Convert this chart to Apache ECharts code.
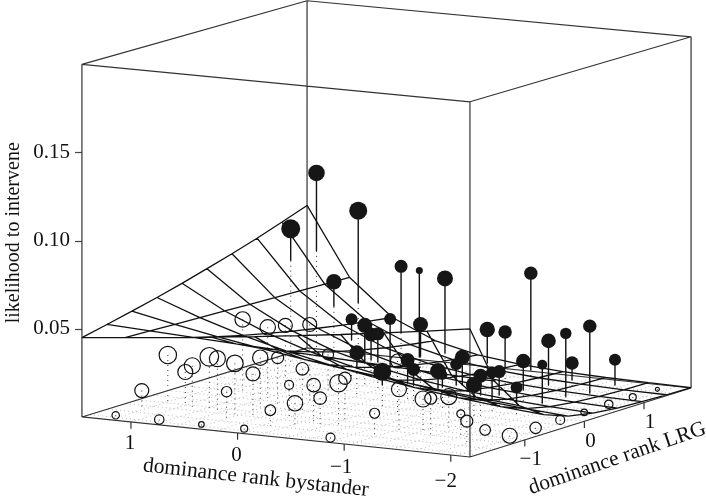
<!DOCTYPE html>
<html>
<head>
<meta charset="utf-8">
<style>html,body{margin:0;padding:0;background:#fff}#main{width:706px;height:502px}</style>
<script src="https://cdn.jsdelivr.net/npm/echarts@6/dist/echarts.min.js"></script>
</head>
<body>
<div id="main"></div>
<script>
// axis ranges and ticks
var bMin = -2.18, bMax = 1.46, lMin = -1.92, lMax = 1.79;
var bystanderTicks = [1, 0, -1, -2];
var lrgTicks = [-1, 0, 1];
var zTicks = [0.05, 0.10, 0.15];

// points under the fitted surface (open circles)
var openB = [.90,.59,.76,.20,1.20,.89,1.03,.77,.62,.45,.41,.36,.30,.28,-.02,-.02,.42,-.33,-.47,-.53,-.46,-.29,-.07,1.20,1.20,.78,.39,.00,-.81,-1.07,-1.01,-1.24,-1.43,-1.42,-1.64,-1.82,-1.88,-2.10,-2.08,-2.07,-2.06,-2.05,-2.04,-2.03,-.65];
var openL = [-.25,-.38,.21,-.37,-.96,-1.10,-.97,-1.03,-1.16,-1.17,-.82,-.62,.11,-1.17,-.88,-1.10,-1.36,-1.24,-1.38,-1.18,-.95,-1.48,-1.50,-1.39,-1.82,-1.84,-1.83,-1.81,-1.81,-1.13,-1.43,-1.03,-1.24,-.92,-1.11,-1.33,-1.13,-1.11,-.64,-.21,.21,.64,1.06,1.49,-.41];
var openZ = [.0414,.0402,.0341,.0441,.0267,.0240,.0182,.0291,.0303,.0288,.0286,.0269,.0214,.0239,.0256,.0188,.0149,.0220,.0170,.0237,.0237,.0140,.0089,.0110,.0015,.0019,.0015,.0013,.0013,.0231,.0123,.0176,.0214,.0189,.0125,.0118,.0051,.0030,.0024,.0023,.0021,.0021,.0017,.0015,.0290];
var openSize = [7.7,7.7,7,7,8.7,8,7.5,9.3,8,8.3,7.7,6,5.5,7,6.3,4.5,5.2,6.8,6.3,8.7,6.2,7.7,5.3,7,3.7,4.7,2.8,3.5,4.5,7.5,5,8,6,8,4,6,5.3,7.5,5.7,4.5,3.3,4.2,3.5,2,7];

// points above the fitted surface (filled circles), with the fitted value under each
var filledB = [1.25,.78,1.23,.77,.46,.13,-.04,.34,.11,-.26,-.07,.09,.27,-.05,-.45,-.49,-.58,-.80,-.92,-.74,-.79,-1.37,-1.37,-1.36,-1.32,-.55,-.77,-1.31,-1.58,-.86,-1.26,-1.61,-1.29,-1.69,-1.64,-1.58];
var filledL = [1.58,1.45,1.12,1.03,.78,.42,-.01,1.39,1.29,.66,1.40,.77,.77,.32,-.31,.04,-.02,.00,-.14,.51,.32,-.30,-.41,-.09,.10,1.26,1.17,.52,-.07,1.44,1.03,.70,1.37,.96,1.47,.36];
var filledZ = [.1042,.0867,.0770,.0504,.0334,.0358,.0257,.0581,.0581,.0362,.0536,.0360,.0260,.0331,.0206,.0239,.0197,.0199,.0199,.0220,.0203,.0239,.0199,.0235,.0218,.0288,.0297,.0233,.0161,.0610,.0291,.0390,.0131,.0409,.0161,.0246];
var filledFit = [.0594,.0337,.0587,.0360,.0216,.0142,.0170,.0199,.0087,.0178,.0108,.0087,.0114,.0170,.0131,.0108,.0108,.0102,.0131,.0063,.0085,.0131,.0114,.0080,.0085,.0097,.0091,.0068,.0074,.0057,.0040,.0030,.0034,.0027,.0017,.0028];
var filledSize = [8.3,9,9.5,7.7,6,7.5,7.5,6.5,3.5,7.5,8,6,7,6.5,9,7,6.5,8,5,7.5,6,7,8,6,6.5,7.7,6.7,7.3,6,6.7,7.3,5.7,6.7,6.7,6,5];

// fitted surface, rows run along surfaceB, columns along surfaceL
var surfaceB = [1.46,1.056,.651,.247,-.158,-.562,-.967,-1.371,-1.776,-2.18];
var surfaceL = [-1.92,-1.508,-1.096,-.683,-.271,.141,.553,.966,1.378,1.79];
var surfaceZ = [
    [.0450,.0482,.0515,.0550,.0588,.0629,.0672,.0718,.0768,.0821],
    [.0475,.0470,.0465,.0460,.0455,.0450,.0445,.0440,.0436,.0431],
    [.0500,.0458,.0419,.0384,.0352,.0322,.0295,.0270,.0247,.0226],
    [.0527,.0446,.0378,.0321,.0272,.0230,.0195,.0165,.0140,.0119],
    [.0555,.0436,.0341,.0268,.0210,.0165,.0129,.0101,.0079,.0062],
    [.0585,.0425,.0308,.0224,.0162,.0118,.0086,.0062,.0045,.0033],
    [.0616,.0414,.0278,.0187,.0126,.0084,.0057,.0038,.0026,.0017],
    [.0650,.0404,.0251,.0156,.0097,.0060,.0038,.0023,.0015,.0009],
    [.0684,.0394,.0227,.0130,.0075,.0043,.0025,.0014,.0008,.0005],
    [.0721,.0384,.0204,.0109,.0058,.0031,.0016,.0009,.0005,.0002]
];

// dotted grid on the floor
var floorB = [1.2,1,.78,.6,.4,.2,0,-.2,-.45,-.65,-.85,-1.05,-1.25,-1.45,-1.65,-1.85,-2.05];
var floorL = [-1.8,-1.5,-1.2,-1,-.75,-.5,-.25,0,.25,.5,.75,1,1.25,1.5];

var GAP = ['-', '-'];
var serif = '"Liberation Serif", serif';
var ink = '#111';

// 3D box to picture units
function project(b, l, z) {
    var t = (b - bMin) / (bMax - bMin), s = (l - lMin) / (lMax - lMin);
    var h = 1776 * (1 - t) * (1 - s) + 1763 * t * (1 - s) + 1756 * (1 - t) * s + 1736 * t * s;
    return [352 - 106.6 * b + 59.6 * l + 4 * t * s, 397.3 - 11 * b - 18.6 * l - z * h];
}

function pathSeries(paths, color, width, type, z) {
    var data = [];
    paths.forEach(function (p) {
        data = data.concat(p, [GAP]);
    });
    return {
        type: 'line', data: data, symbol: 'none', silent: true, animation: false, z: z,
        clip: false, lineStyle: { color: color, width: width, type: type }
    };
}

function textSeries(items, font, rotate) {
    return {
        type: 'scatter', symbolSize: 0, silent: true, animation: false, clip: false, z: 8,
        itemStyle: { opacity: 1 },
        data: items.map(function (d) {
            return {
                value: d.pos,
                label: {
                    show: true, position: 'inside', formatter: d.text, color: ink,
                    fontFamily: serif, fontSize: font, rotate: rotate, offset: d.offset
                }
            };
        })
    };
}

// box
var box = [
    [project(bMax, lMin, 0), project(bMin, lMin, 0), project(bMin, lMax, 0), project(bMax, lMax, 0), project(bMax, lMin, 0)],
    [project(bMax, lMin, .2), project(bMin, lMin, .2), project(bMin, lMax, .2), project(bMax, lMax, .2), project(bMax, lMin, .2)],
    [project(bMax, lMin, 0), project(bMax, lMin, .2)],
    [project(bMin, lMin, 0), project(bMin, lMin, .2)],
    [project(bMin, lMax, 0), project(bMin, lMax, .2)],
    [project(bMax, lMax, 0), project(bMax, lMax, .2)]
];

var floorGrid = [];
floorB.forEach(function (b) { floorGrid.push([project(b, lMin, 0), project(b, lMax, 0)]); });
floorL.forEach(function (l) { floorGrid.push([project(bMin, l, 0), project(bMax, l, 0)]); });

var axisTicks = [];
bystanderTicks.forEach(function (b) { axisTicks.push([project(b, lMin, 0), project(b, lMin, -.0038)]); });
lrgTicks.forEach(function (l) { axisTicks.push([project(bMin, l, 0), project(bMin, l, -.0038)]); });

var mesh = [];
surfaceB.forEach(function (b, i) {
    mesh.push(surfaceL.map(function (l, j) { return project(b, l, surfaceZ[i][j]); }));
});
surfaceL.forEach(function (l, j) {
    mesh.push(surfaceB.map(function (b, i) { return project(b, l, surfaceZ[i][j]); }));
});

// stems: dotted below the surface, solid above it
var dottedStems = [], solidStems = [];
openB.forEach(function (b, i) {
    dottedStems.push([project(b, openL[i], openZ[i]), project(b, openL[i], 0)]);
});
filledB.forEach(function (b, i) {
    dottedStems.push([project(b, filledL[i], filledFit[i]), project(b, filledL[i], 0)]);
    solidStems.push([project(b, filledL[i], filledZ[i]), project(b, filledL[i], filledFit[i])]);
});

var openData = openB.map(function (b, i) {
    return project(b, openL[i], openZ[i]).concat(openSize[i]);
});
var filledData = filledB.map(function (b, i) {
    return project(b, filledL[i], filledZ[i]).concat(filledSize[i]);
});
function bubble(d) { return d[2] * 2; }

var myChart = echarts.init(document.getElementById('main'));

var option = {
    backgroundColor: '#fff',
    animation: false,
    grid: [
        { left: 0, top: 0, width: 706, height: 502 },
        { left: 82, top: 64.5, width: 1, height: 352.5 }
    ],
    xAxis: [
        { type: 'value', min: 0, max: 706, show: false, gridIndex: 0 },
        { type: 'value', min: 0, max: 1, show: false, gridIndex: 1 }
    ],
    yAxis: [
        { type: 'value', min: 0, max: 502, inverse: true, show: false, gridIndex: 0 },
        {
            type: 'value', min: 0, max: .2, gridIndex: 1, splitLine: { show: false },
            name: 'likelihood to intervene', nameLocation: 'middle', nameRotate: 90, nameGap: 58,
            nameTextStyle: { fontFamily: serif, fontSize: 20, color: ink, padding: [0, 0, 0, 16] },
            axisLine: { show: false },
            axisTick: { show: true, length: 7, customValues: zTicks, lineStyle: { color: '#444', width: 1.2 } },
            axisLabel: {
                customValues: zTicks, margin: 12, fontFamily: serif, fontSize: 21, color: ink,
                formatter: function (v) { return v.toFixed(2); }
            }
        }
    ],
    series: [
        pathSeries(floorGrid, '#bbb', 1, [1, 3], 2),
        pathSeries(dottedStems, '#333', 1, [1, 4], 3),
        pathSeries(box, '#333', 1.2, 'solid', 3),
        pathSeries(axisTicks, '#333', 1.2, 'solid', 3),
        {
            type: 'scatter', data: openData, symbolSize: bubble, silent: true, animation: false, z: 4,
            itemStyle: { color: 'transparent', borderColor: ink, borderWidth: 1.2, opacity: 1 }
        },
        pathSeries(mesh, ink, 1.3, 'solid', 5),
        pathSeries(solidStems, ink, 1.4, 'solid', 6),
        {
            type: 'scatter', data: filledData, symbolSize: bubble, silent: true, animation: false, z: 7,
            itemStyle: { color: '#161616', opacity: 1 }
        },
        textSeries(bystanderTicks.map(function (b, i) {
            return {
                pos: project(b, lMin, 0), text: String(b).replace('-', '\u2212'),
                offset: [[-1, 21], [-1, 22], [-3, 23], [-5, 26]][i]
            };
        }), 21, 0),
        textSeries(lrgTicks.map(function (l) {
            return { pos: project(bMin, l, 0), text: String(l).replace('-', '\u2212'), offset: [6, 20] };
        }), 21, 0),
        textSeries([{ pos: project(-.36, lMin, 0), text: 'dominance rank bystander', offset: [-15.5, 43] }], 21.5, -6.3),
        textSeries([{ pos: project(bMin, -.065, 0), text: 'dominance rank LRG', offset: [23, 46] }], 21.5, 19)
    ]
};
myChart.setOption(option);
</script>
</body>
</html>
